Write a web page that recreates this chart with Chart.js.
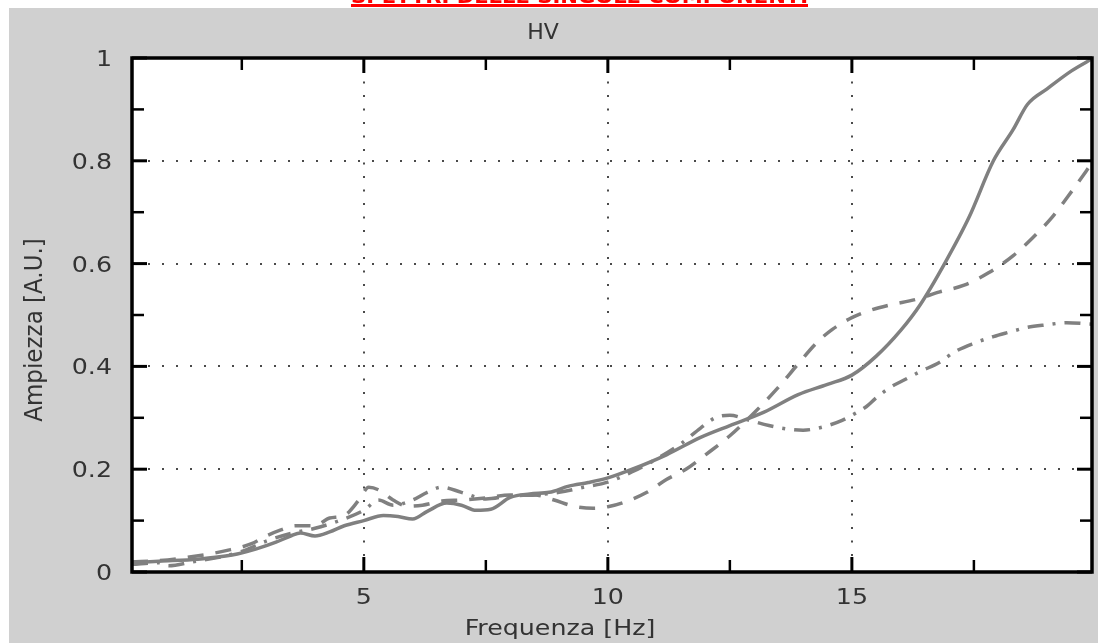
<!DOCTYPE html>
<html><head><meta charset="utf-8">
<script src="https://cdn.jsdelivr.net/npm/chart.js@4.4.0/dist/chart.umd.min.js"></script>
<style>html,body{margin:0;padding:0;background:#fff;overflow:hidden}#wrap{width:1098px;height:643px;position:relative}canvas{display:block}</style>
</head><body><div id="wrap"><canvas id="c" width="1098" height="643"></canvas></div>
<script>
// ---- data ----
const headerText = "SPETTRI DELLE SINGOLE COMPONENTI";
const chartTitle = "HV";
const xTitle = "Frequenza [Hz]";
const yTitle = "Ampiezza [A.U.]";

const xMajorTicks = [5, 10, 15];
const xMinorTicks = [2.5, 7.5, 12.5, 17.5];
const yMajorTicks = [0, 0.2, 0.4, 0.6, 0.8, 1];
const yMajorLabels = ["0", "0.2", "0.4", "0.6", "0.8", "1"];
const yMinorTicks = [0.1, 0.3, 0.5, 0.7, 0.9];

const solidFreq = [0.25,0.8,1.6,2.3,2.8,3.2,3.5,3.7,4.0,4.3,4.6,5.0,5.4,5.7,6.0,6.3,6.7,7.0,7.3,7.6,8.0,8.4,8.8,9.2,9.6,10.0,10.5,11.2,11.9,12.5,13.2,13.9,14.5,15.0,15.5,16.0,16.4,16.9,17.4,17.9,18.3,18.6,19.0,19.5,19.95];
const solidAmp  = [0.018,0.021,0.025,0.033,0.045,0.058,0.07,0.076,0.07,0.078,0.09,0.1,0.11,0.108,0.103,0.118,0.134,0.13,0.12,0.122,0.145,0.152,0.155,0.167,0.174,0.183,0.2,0.228,0.262,0.285,0.311,0.345,0.365,0.383,0.42,0.47,0.52,0.6,0.69,0.8,0.86,0.91,0.94,0.975,1.0];

const dashedFreq = [0.25,0.8,1.5,2.2,2.7,3.0,3.3,3.6,4.0,4.3,4.6,4.9,5.1,5.3,5.6,5.9,6.2,6.6,7.0,7.5,8.0,8.5,8.9,9.3,9.7,10.0,10.4,10.8,11.2,11.6,12.0,12.5,13.0,13.5,13.9,14.3,14.6,15.0,15.4,15.8,16.3,16.8,17.3,17.8,18.3,18.7,19.1,19.5,19.95];
const dashedAmp  = [0.02,0.022,0.03,0.042,0.055,0.07,0.082,0.09,0.09,0.105,0.11,0.14,0.165,0.16,0.14,0.128,0.13,0.138,0.14,0.144,0.15,0.15,0.14,0.128,0.124,0.127,0.138,0.155,0.18,0.2,0.228,0.265,0.31,0.36,0.405,0.448,0.472,0.495,0.51,0.52,0.53,0.545,0.558,0.582,0.615,0.65,0.69,0.74,0.8];

const dashDotFreq = [0.25,0.8,1.0,1.5,2.0,2.5,3.0,3.5,4.0,4.5,5.0,5.3,5.6,6.0,6.3,6.6,7.0,7.5,8.0,8.5,9.0,9.5,10.0,10.5,11.0,11.5,11.9,12.2,12.5,12.9,13.3,13.7,14.0,14.4,14.8,15.0,15.3,15.5,15.8,16.1,16.4,16.8,17.1,17.5,17.9,18.2,18.6,19.0,19.4,19.95];
const dashDotAmp  = [0.015,0.018,0.012,0.02,0.028,0.04,0.06,0.075,0.085,0.1,0.12,0.14,0.13,0.14,0.155,0.165,0.155,0.142,0.148,0.15,0.155,0.165,0.175,0.195,0.22,0.25,0.28,0.3,0.305,0.295,0.285,0.278,0.276,0.282,0.295,0.305,0.322,0.339,0.36,0.375,0.39,0.408,0.428,0.445,0.458,0.466,0.476,0.481,0.485,0.482];

const toPts = (xs, ys) => xs.map((x, i) => ({x: x, y: ys[i]}));

const FONT = "'DejaVu Sans', Verdana, sans-serif";
const TXT = "#333333";
const SX = 1.15;

function stretchedText(ctx, txt, x, y, size, align, sx, weight) {
  ctx.save();
  ctx.font = (weight || "normal") + " " + size + "px " + FONT;
  ctx.fillStyle = TXT;
  ctx.textAlign = align;
  ctx.textBaseline = "alphabetic";
  ctx.translate(x, y);
  ctx.scale(sx, 1);
  ctx.fillText(txt, 0, 0);
  ctx.restore();
}

const decor = {
  id: "decor",
  beforeDraw(chart) {
    const ctx = chart.ctx, a = chart.chartArea;
    ctx.save();
    ctx.fillStyle = "#ffffff";
    ctx.fillRect(0, 0, chart.width, chart.height);
    ctx.fillStyle = "#d0d0d0";
    ctx.fillRect(9, 8, chart.width - 9, chart.height - 8);
    ctx.fillStyle = "#ffffff";
    ctx.fillRect(a.left, a.top, a.right - a.left, a.bottom - a.top);
    ctx.restore();
  },
  beforeDatasetsDraw(chart) {
    const ctx = chart.ctx, a = chart.chartArea, xs = chart.scales.x, ys = chart.scales.y;
    ctx.save();
    ctx.strokeStyle = "#4a4a4a";
    ctx.lineWidth = 2;
    ctx.setLineDash([2, 11.5]);
    xMajorTicks.forEach(v => {
      const px = Math.round(xs.getPixelForValue(v));
      ctx.beginPath(); ctx.moveTo(px, a.bottom - 16); ctx.lineTo(px, a.top + 16); ctx.stroke();
    });
    ctx.setLineDash([2, 12]);
    yMajorTicks.forEach(v => {
      if (v <= 0 || v >= 1) return;
      const py = Math.round(ys.getPixelForValue(v));
      ctx.beginPath(); ctx.moveTo(a.left + 16, py); ctx.lineTo(a.right - 16, py); ctx.stroke();
    });
    ctx.restore();
  },
  afterDatasetsDraw(chart) {
    const ctx = chart.ctx, a = chart.chartArea, xs = chart.scales.x, ys = chart.scales.y;
    ctx.save();
    ctx.strokeStyle = "#000";
    ctx.setLineDash([]);
    const tick = (x1, y1, x2, y2, w) => { ctx.lineWidth = w; ctx.beginPath(); ctx.moveTo(x1, y1); ctx.lineTo(x2, y2); ctx.stroke(); };
    yMajorTicks.forEach(v => { const py = ys.getPixelForValue(v); tick(a.left, py, a.left + 15, py, 3); tick(a.right, py, a.right - 15, py, 3); });
    yMinorTicks.forEach(v => { const py = ys.getPixelForValue(v); tick(a.left, py, a.left + 12, py, 2.5); tick(a.right, py, a.right - 12, py, 2.5); });
    xMajorTicks.forEach(v => { const px = xs.getPixelForValue(v); tick(px, a.bottom, px, a.bottom - 15, 3); tick(px, a.top, px, a.top + 15, 3); });
    xMinorTicks.forEach(v => { const px = xs.getPixelForValue(v); tick(px, a.bottom, px, a.bottom - 12, 2.5); tick(px, a.top, px, a.top + 12, 2.5); });
    ctx.lineWidth = 3.5;
    ctx.strokeRect(a.left, a.top, a.right - a.left, a.bottom - a.top);
    ctx.restore();
  },
  afterDraw(chart) {
    const ctx = chart.ctx, xs = chart.scales.x, ys = chart.scales.y;
    // red header (cut at the top)
    ctx.save();
    ctx.font = "bold 20px " + FONT;
    const w = ctx.measureText(headerText).width;
    ctx.translate(351, 2.5);
    ctx.scale(457 / w, 1);
    ctx.fillStyle = "#ff0000";
    ctx.textAlign = "left";
    ctx.fillText(headerText, 0, 0);
    ctx.restore();
    ctx.save();
    ctx.fillStyle = "#ff0000";
    ctx.fillRect(351, 4, 457, 3);
    ctx.restore();
    // title
    stretchedText(ctx, chartTitle, 543, 39, 22, "center", 1.0);
    // y tick labels
    yMajorTicks.forEach((v, i) => {
      stretchedText(ctx, yMajorLabels[i], 112, ys.getPixelForValue(v) + 8, 22, "right", SX);
    });
    // x tick labels
    xMajorTicks.forEach(v => {
      stretchedText(ctx, String(v), xs.getPixelForValue(v), 604, 22, "center", SX);
    });
    // axis titles
    stretchedText(ctx, xTitle, 560, 635, 22, "center", SX);
    ctx.save();
    ctx.font = "23px " + FONT;
    ctx.fillStyle = TXT;
    ctx.textAlign = "center";
    ctx.textBaseline = "alphabetic";
    ctx.translate(42, 330);
    ctx.scale(1.05, 1);
    ctx.rotate(-Math.PI / 2);
    ctx.fillText(yTitle, 0, 0);
    ctx.restore();
  }
};

const lineStyle = { borderColor: "#808080", borderWidth: 3.5, pointRadius: 0, fill: false, cubicInterpolationMode: "monotone", borderCapStyle: "butt" };

new Chart(document.getElementById("c"), {
  type: "line",
  data: {
    datasets: [
      Object.assign({ label: "solid", data: toPts(solidFreq, solidAmp) }, lineStyle),
      Object.assign({ label: "dashed", data: toPts(dashedFreq, dashedAmp), borderDash: [16, 12] }, lineStyle),
      Object.assign({ label: "dashdot", data: toPts(dashDotFreq, dashDotAmp), borderDash: [16, 9, 3, 9] }, lineStyle)
    ]
  },
  options: {
    responsive: false,
    animation: false,
    devicePixelRatio: 1,
    layout: { padding: { left: 132, right: 6, top: 58, bottom: 71 } },
    plugins: { legend: { display: false }, tooltip: { enabled: false }, title: { display: false } },
    scales: {
      x: { type: "linear", min: 0.25, max: 19.92, display: false, grid: { display: false } },
      y: { type: "linear", min: 0, max: 1, display: false, grid: { display: false } }
    }
  },
  plugins: [decor]
});
</script>
</body></html>
